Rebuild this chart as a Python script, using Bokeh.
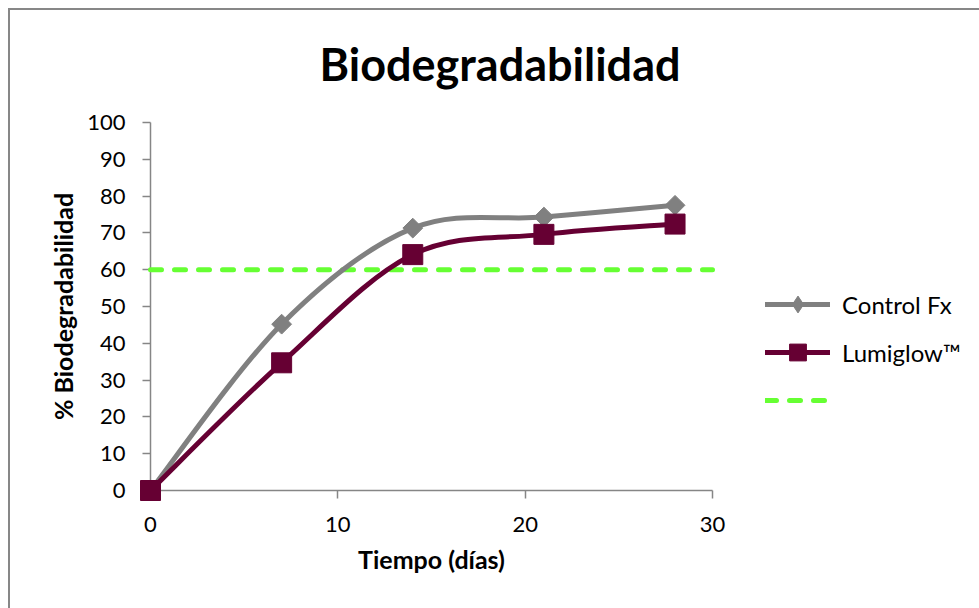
import math
from bokeh.plotting import figure
from bokeh.models import Range1d, FixedTicker, Legend, LegendItem, ColumnDataSource
from bokeh.embed import file_html
from bokeh.resources import INLINE

# ---- data ----
days = [0, 7, 14, 21, 28]
control_fx = [0, 45.2, 71.3, 74.3, 77.5]
lumiglow = [0, 34.7, 64.1, 69.6, 72.4]
threshold_x = [0, 30]
threshold_y = [60, 60]
x_ticks = [0, 10, 20, 30]
y_ticks = [0, 10, 20, 30, 40, 50, 60, 70, 80, 90, 100]
series_names = ["Control Fx", "Lumiglow\u2122"]
title_text = "Biodegradabilidad"
x_label = "Tiempo (días)"
y_label = "% Biodegradabilidad"

FONT = "Lato"


def bezier_source(xs, ys):
    """Catmull-Rom style smoothing control points computed from the data points."""
    n = len(xs)
    d = dict(x0=[], y0=[], x1=[], y1=[], cx0=[], cy0=[], cx1=[], cy1=[])
    for i in range(n - 1):
        ip = max(i - 1, 0)
        inn = min(i + 2, n - 1)
        d["x0"].append(xs[i]); d["y0"].append(ys[i])
        d["x1"].append(xs[i + 1]); d["y1"].append(ys[i + 1])
        d["cx0"].append(xs[i] + (xs[i + 1] - xs[ip]) / 6)
        d["cy0"].append(ys[i] + (ys[i + 1] - ys[ip]) / 6)
        d["cx1"].append(xs[i + 1] - (xs[inn] - xs[i]) / 6)
        d["cy1"].append(ys[i + 1] - (ys[inn] - ys[i]) / 6)
    return ColumnDataSource(d)


p = figure(frame_width=562, frame_height=368, output_backend="svg", toolbar_location=None,
           x_range=Range1d(0, 30), y_range=Range1d(0, 100),
           min_border_left=150, min_border_right=267, min_border_top=122, min_border_bottom=118)
# chart-area border (top and left edges) drawn as the element's background
p.styles = {
    "background": ("linear-gradient(#878787, #878787) 8px 8px / 100% 2px no-repeat, "
                   "linear-gradient(#878787, #878787) 8px 8px / 2px 100% no-repeat, #ffffff"),
}
p.border_fill_alpha = 0

p.title.text = title_text
p.title.text_font = FONT
p.title.text_font_style = "bold"
p.title.text_font_size = "45px"
p.title.align = "left"
p.title.vertical_align = "top"
p.title.offset = 169
p.title.standoff = 60
p.title.text_color = "black"

p.grid.visible = False
p.outline_line_color = None
p.background_fill_color = "white"

for ax in (p.xaxis[0], p.yaxis[0]):
    ax.axis_line_color = "#868686"
    ax.axis_line_width = 1.5
    ax.major_tick_line_color = "#868686"
    ax.major_tick_line_width = 1.5
    ax.minor_tick_line_color = None
    ax.major_tick_in = 0
    ax.major_tick_out = 8
    ax.major_label_text_font = FONT
    ax.major_label_text_font_size = "22px"
    ax.major_label_text_color = "black"
    ax.axis_label_text_font = FONT
    ax.axis_label_text_font_style = "bold"
    ax.axis_label_text_font_size = "25px"
    ax.axis_label_text_color = "black"

p.xaxis.ticker = FixedTicker(ticks=x_ticks)
p.yaxis.ticker = FixedTicker(ticks=y_ticks)
p.xaxis.axis_label = x_label
p.yaxis.axis_label = y_label
p.xaxis.major_label_standoff = 18
p.yaxis.major_label_standoff = 17
p.xaxis.axis_label_standoff = 9
p.yaxis.axis_label_standoff = 6

GREEN = "#66FF33"
GRAY = "#808080"
MAROON = "#660033"

r_th = p.line(threshold_x, threshold_y, line_color=GREEN, line_width=5,
              line_dash="11 13", line_cap="round", level="overlay")

r_c = p.bezier(source=bezier_source(days, control_fx), x0="x0", y0="y0", x1="x1", y1="y1",
               cx0="cx0", cy0="cy0", cx1="cx1", cy1="cy1",
               line_color=GRAY, line_width=5, line_cap="round", level="overlay")
# diamond marker renderer (gives the legend its diamond swatch; sits under the rotated squares)
s_c_key = p.scatter(days, control_fx, marker="diamond", size=11,
                    fill_color=GRAY, line_color=GRAY, level="overlay")
s_c = p.scatter(days, control_fx, marker="square", angle=math.pi / 4, size=14,
                fill_color=GRAY, line_color=GRAY, level="overlay")

r_l = p.bezier(source=bezier_source(days, lumiglow), x0="x0", y0="y0", x1="x1", y1="y1",
               cx0="cx0", cy0="cy0", cx1="cx1", cy1="cy1",
               line_color=MAROON, line_width=5, line_cap="round", level="overlay")
s_l = p.scatter(days, lumiglow, marker="square", size=20,
                fill_color=MAROON, line_color=MAROON, level="overlay")

legend = Legend(items=[
    LegendItem(label=series_names[0], renderers=[r_c, s_c_key]),
    LegendItem(label=series_names[1], renderers=[r_l, s_l]),
    LegendItem(label=" ", renderers=[r_th]),
], location=(53, 69))
legend.glyph_width = 65
legend.glyph_height = 42
legend.spacing = 6
legend.padding = 0
legend.margin = 0
legend.label_standoff = 12
legend.label_text_font = FONT
legend.label_text_font_size = "24px"
legend.label_text_color = "black"
legend.border_line_alpha = 0
legend.background_fill_alpha = 0
p.add_layout(legend, "right")

open("out.html", "w").write(file_html(p, INLINE))
